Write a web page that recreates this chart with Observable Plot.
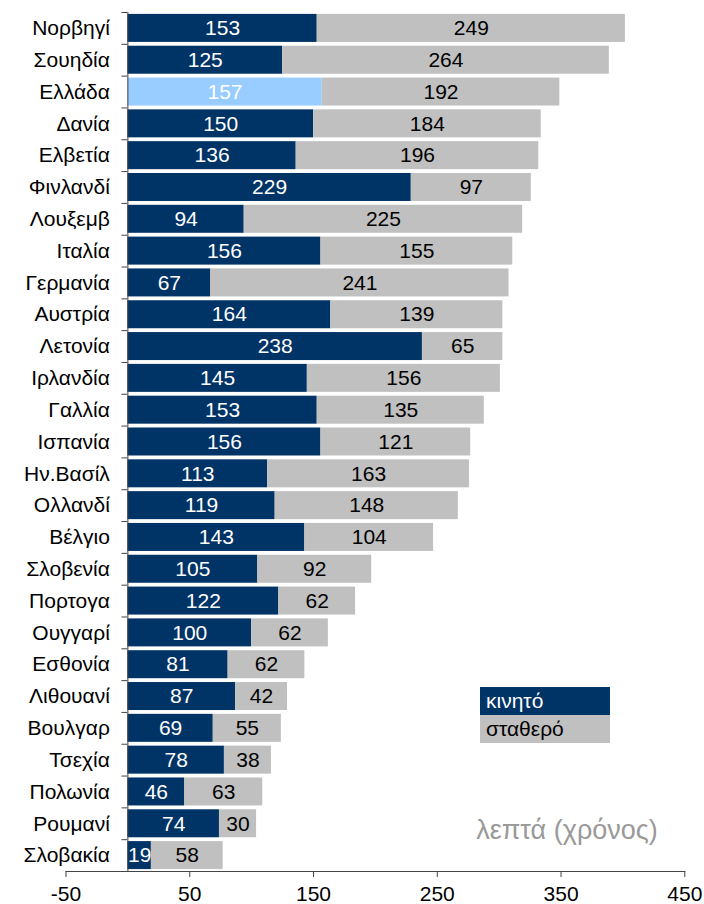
<!DOCTYPE html>
<html><head><meta charset="utf-8">
<script src="https://cdn.jsdelivr.net/npm/d3@7"></script>
<script src="https://cdn.jsdelivr.net/npm/@observablehq/plot@0.6"></script>
<style>
html,body{margin:0;background:#fff;overflow:hidden;font-family:"Liberation Sans",Arial,sans-serif;}
#wrap{position:relative;width:704px;height:904px;}
#chart svg{display:block;}
#legend{position:absolute;left:480px;top:687px;width:130px;font-size:21px;}
#legend div{height:28px;line-height:28px;padding-left:6px;}
</style>
</head><body><div id="wrap"><div id="chart"></div><div id="legend"></div></div>
<script>
const countries = ["Νορβηγί","Σουηδία","Ελλάδα","Δανία","Ελβετία","Φινλανδί","Λουξεμβ","Ιταλία","Γερμανία","Αυστρία","Λετονία","Ιρλανδία","Γαλλία","Ισπανία","Ην.Βασίλ","Ολλανδί","Βέλγιο","Σλοβενία","Πορτογα","Ουγγαρί","Εσθονία","Λιθουανί","Βουλγαρ","Τσεχία","Πολωνία","Ρουμανί","Σλοβακία"];
const mobile = [153,125,157,150,136,229,94,156,67,164,238,145,153,156,113,119,143,105,122,100,81,87,69,78,46,74,19];
const fixed  = [249,264,192,184,196,97,225,155,241,139,65,156,135,121,163,148,104,92,62,62,62,42,55,38,63,30,58];
const seriesNames = ["κινητό","σταθερό"];
const xTicks = [-50,50,150,250,350,450];
const highlight = "Ελλάδα";
const unitLabel = "λεπτά (χρόνος)";

const NAVY = "#003366", GRAY = "#C0C0C0", LIGHT = "#99CCFF";

const rows = countries.flatMap((c,i)=>[
  {country:c, type:seriesNames[0], value:mobile[i]},
  {country:c, type:seriesNames[1], value:fixed[i]}
]);

const H = 904, MT = 12, MB = 33;
const step = (H - MT - MB) / countries.length;

const fillOf = d => d.type === seriesNames[0] ? (d.country === highlight ? LIGHT : NAVY) : GRAY;
const textOf = d => d.type === seriesNames[0] ? "#fff" : "#000";
const FS = 21;

const chart = Plot.plot({
  width: 704, height: H,
  marginLeft: 65.5, marginRight: 19.7, marginTop: MT, marginBottom: MB,
  style: {fontFamily: "Liberation Sans, Arial, sans-serif", fontSize: FS + "px", background: "#fff", overflow: "visible"},
  x: {domain: [-50, 450], ticks: xTicks},
  y: {domain: countries, paddingInner: 0.12, paddingOuter: 0.06, round: false, axis: null},
  color: {type: "identity"},
  marks: [
    Plot.barX(rows, Plot.stackX({x: "value", y: "country", fill: fillOf, order: null})),
    Plot.text(rows, Plot.stackX({x: "value", y: "country", text: d => String(d.value), fill: textOf, order: null, fontSize: FS})),
    Plot.ruleX([0], {stroke: "#444"}),
    Plot.ruleY(countries, {y: d => d, x1: -4.8, x2: 0, dy: -step/2, stroke: "#444"}),
    Plot.text(countries, {x: 0, y: d => d, text: d => d, textAnchor: "end", dx: -18, fill: "#000", fontSize: FS}),
    Plot.frame({anchor: "bottom", stroke: "#444"}),
    Plot.axisX({ticks: xTicks, tickSize: 6, tickPadding: 9, fontSize: FS, stroke: "#444", fill: "#000", tickFormat: d => String(d), label: null}),
    Plot.text([unitLabel], {frameAnchor: "bottom-right", text: d => d, textAnchor: "end", dx: -27, dy: -33, fill: "#999", fontSize: 27})
  ]
});
document.getElementById("chart").appendChild(chart);

const legend = document.getElementById("legend");
[[seriesNames[0], NAVY, "#fff"], [seriesNames[1], GRAY, "#000"]].forEach(([name, bg, fg]) => {
  const d = document.createElement("div");
  d.textContent = name; d.style.background = bg; d.style.color = fg;
  legend.appendChild(d);
});
</script>
</body></html>
